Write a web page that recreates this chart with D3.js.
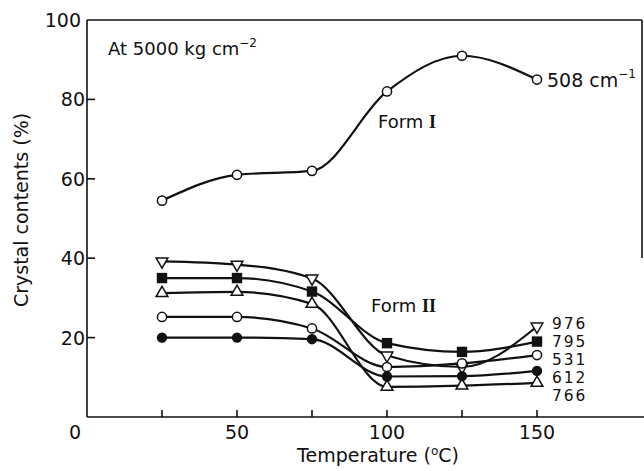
<!DOCTYPE html>
<html>
<head>
<meta charset="utf-8">
<script src="https://cdn.jsdelivr.net/npm/d3@7"></script>
<style>
  html, body { margin: 0; padding: 0; background: #fff; }
  svg { display: block; }
  text { font-family: "DejaVu Sans", sans-serif; fill: #111; }
</style>
</head>
<body>
<svg id="chart" width="644" height="471"></svg>
<script>
// Temperatures at which crystal contents were measured (°C)
const temps = [25, 50, 75, 100, 125, 150];

// Form I, band at 508 cm^-1
const form1_508 = [54.5, 61, 62, 82, 91, 85];

// Form II bands
const form2_976 = [39.2, 38.4, 34.9, 15.5, 12.6, 22.8];
const form2_795 = [35, 35, 31.6, 18.6, 16.4, 19];
const form2_766 = [31.2, 31.5, 28.5, 7.6, 7.9, 8.6];
const form2_531 = [25.2, 25.2, 22.3, 12.6, 13.5, 15.6];
const form2_612 = [20, 20, 19.6, 10.2, 10.3, 11.6];

const xTicks = [25, 50, 75, 100, 125, 150];
const xTickLabels = [50, 100, 150];
const yTicks = [20, 40, 60, 80];
const yTickLabels = [20, 40, 60, 80, 100];

const series = [
  { band: "508", values: form1_508, marker: "circleOpen" },
  { band: "976", values: form2_976, marker: "triDownOpen" },
  { band: "795", values: form2_795, marker: "squareFilled" },
  { band: "766", values: form2_766, marker: "triUpOpen" },
  { band: "531", values: form2_531, marker: "circleOpen" },
  { band: "612", values: form2_612, marker: "circleFilled" }
];

// Right-hand labels for the Form II curves, stacked top to bottom
const form2Labels = ["976", "795", "531", "612", "766"];

const svg = d3.select("#chart");
const x = d3.scaleLinear().domain([0, 150]).range([87, 537]);
const y = d3.scaleLinear().domain([0, 100]).range([417, 20]);

const ink = "#111";

// Frame: left and bottom axes, top rule, partial right rule
const frame = svg.append("g").attr("stroke", ink).attr("stroke-width", 1.6).attr("fill", "none");
frame.append("line").attr("x1", x(0)).attr("x2", x(0)).attr("y1", y(100)).attr("y2", y(0));
frame.append("line").attr("x1", x(0)).attr("x2", 644).attr("y1", y(0)).attr("y2", y(0));
frame.append("line").attr("x1", x(0)).attr("x2", 642).attr("y1", y(100)).attr("y2", y(100));
frame.append("line").attr("x1", 642).attr("x2", 642).attr("y1", y(100)).attr("y2", 258);

// Inward ticks
frame.selectAll(".xt").data(xTicks).join("line")
  .attr("x1", d => x(d)).attr("x2", d => x(d))
  .attr("y1", y(0)).attr("y2", y(0) - 7);
frame.selectAll(".yt").data(yTicks).join("line")
  .attr("x1", x(0)).attr("x2", x(0) + 8)
  .attr("y1", d => y(d)).attr("y2", d => y(d));

// Tick labels
const tickFont = 19;
svg.selectAll(".xl").data(xTickLabels).join("text")
  .attr("x", d => x(d)).attr("y", y(0) + 22)
  .attr("text-anchor", "middle").attr("font-size", tickFont)
  .text(d => d);
svg.append("text").attr("x", x(0) - 12).attr("y", y(0) + 22)
  .attr("text-anchor", "middle").attr("font-size", tickFont).text("0");
svg.selectAll(".yl").data(yTickLabels).join("text")
  .attr("x", d => x(0) - (d === 100 ? 6 : 2)).attr("y", d => y(d) + 7)
  .attr("text-anchor", "end").attr("font-size", tickFont)
  .text(d => d);

// Axis titles
const xt = svg.append("text").attr("x", 378).attr("y", 462)
  .attr("text-anchor", "middle").attr("font-size", 19);
xt.append("tspan").text("Temperature (");
xt.append("tspan").attr("font-size", 12).attr("dy", -7).text("o");
xt.append("tspan").attr("dy", 7).text("C)");

svg.append("text")
  .attr("transform", `translate(28, ${210}) rotate(-90)`)
  .attr("text-anchor", "middle").attr("font-size", 19)
  .text("Crystal contents (%)");

// Curves
const line = d3.line()
  .x((d, i) => x(temps[i]))
  .y(d => y(d))
  .curve(d3.curveMonotoneX);

svg.append("g").attr("fill", "none").attr("stroke", ink).attr("stroke-width", 2.2)
  .selectAll("path").data(series).join("path")
  .attr("d", s => line(s.values));

// Markers
const tri = d3.symbol().type(d3.symbolTriangle).size(60);
const mg = svg.append("g");
series.forEach(s => {
  s.values.forEach((v, i) => {
    const cx = x(temps[i]), cy = y(v);
    if (s.marker === "circleOpen") {
      mg.append("circle").attr("cx", cx).attr("cy", cy).attr("r", 4.6)
        .attr("fill", "#fff").attr("stroke", ink).attr("stroke-width", 1.5);
    } else if (s.marker === "circleFilled") {
      mg.append("circle").attr("cx", cx).attr("cy", cy).attr("r", 5.2).attr("fill", ink);
    } else if (s.marker === "squareFilled") {
      mg.append("rect").attr("x", cx - 5.2).attr("y", cy - 5.2)
        .attr("width", 10.4).attr("height", 10.4).attr("fill", ink);
    } else if (s.marker === "triUpOpen") {
      mg.append("path").attr("d", tri()).attr("transform", `translate(${cx},${cy})`)
        .attr("fill", "#fff").attr("stroke", ink).attr("stroke-width", 1.5);
    } else if (s.marker === "triDownOpen") {
      mg.append("path").attr("d", tri()).attr("transform", `translate(${cx},${cy}) rotate(180)`)
        .attr("fill", "#fff").attr("stroke", ink).attr("stroke-width", 1.5);
    }
  });
});

// Annotations
const title = svg.append("text").attr("x", 108).attr("y", 55).attr("font-size", 18);
title.append("tspan").text("At 5000 kg cm");
title.append("tspan").attr("font-size", 12).attr("dy", -8).text("−2");

const b508 = svg.append("text").attr("x", 547).attr("y", 87).attr("font-size", 19);
b508.append("tspan").text("508 cm");
b508.append("tspan").attr("font-size", 12).attr("dy", -9).text("−1");

const f1 = svg.append("text").attr("x", 378).attr("y", 128).attr("font-size", 18);
f1.append("tspan").text("Form ");
f1.append("tspan").attr("font-family", "Liberation Serif, serif").attr("font-weight", "bold").text("I");

const f2 = svg.append("text").attr("x", 371).attr("y", 312).attr("font-size", 18);
f2.append("tspan").text("Form ");
f2.append("tspan").attr("font-family", "Liberation Serif, serif").attr("font-weight", "bold").text("II");

svg.selectAll(".bl").data(form2Labels).join("text")
  .attr("x", 552).attr("y", (d, i) => 329 + i * 18)
  .attr("font-size", 15.4).attr("letter-spacing", 2)
  .text(d => d);
</script>
</body>
</html>
